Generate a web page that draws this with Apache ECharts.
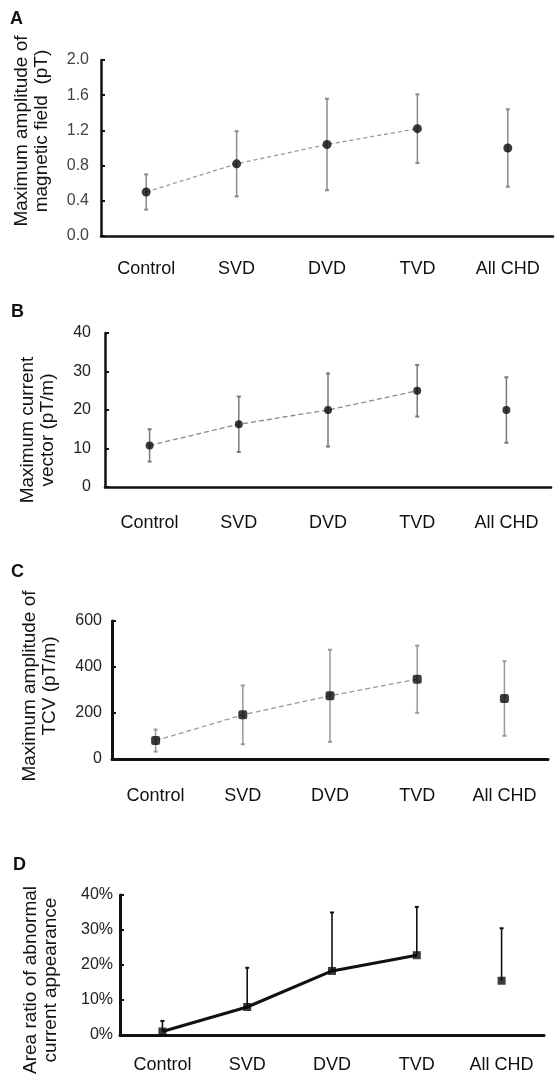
<!DOCTYPE html>
<html><head><meta charset="utf-8">
<script src="https://cdn.jsdelivr.net/npm/echarts@6/dist/echarts.min.js"></script>
<style>html,body{margin:0;padding:0;background:#fff}#c{width:555px;height:1077px}</style>
</head><body><div id="c"></div>
<script>
// ---- data ----
const categories = ['Control', 'SVD', 'DVD', 'TVD', 'All CHD'];
const magMean = [0.50, 0.82, 1.04, 1.22, 1.00];
const magErr  = [0.20, 0.37, 0.52, 0.39, 0.44];
const curMean = [10.8, 16.3, 20.0, 25.0, 20.0];
const curErr  = [4.2, 7.2, 9.5, 6.7, 8.5];
const tcvMean = [80, 192, 275, 347, 263];
const tcvErr  = [48, 128, 200, 146, 162];
const areaMean = [1.0, 8.0, 18.3, 22.8, 15.5];
const areaErr  = [3.0, 11.2, 16.7, 13.8, 15.0];
const magTicks  = [0, 0.4, 0.8, 1.2, 1.6, 2.0];
const curTicks  = [0, 10, 20, 30, 40];
const tcvTicks  = [0, 200, 400, 600];
const areaTicks = [0, 10, 20, 30, 40];
const panelLetters = ['A', 'B', 'C', 'D'];
const yTitles = [
  'Maximum amplitude of\nmagnetic field  (pT)',
  'Maximum current\nvector (pT/m)',
  'Maximum amplitude of\nTCV (pT/m)',
  'Area ratio of abnormal\ncurrent appearance'
];

// ---- layout / style ----
const FONT = '"Liberation Sans", Arial, sans-serif';
const layout = [
  {left: 101, top: 60,  width: 452, height: 176, labelMargin: 12, xMargin: 24, axisW: 2.5,
   letter: [10, 19], title: [32, 131], tickColor: '#444'},
  {left: 105, top: 333, width: 446, height: 154, labelMargin: 14, xMargin: 27, axisW: 2.5,
   letter: [11, 312], title: [38, 430], tickColor: '#222'},
  {left: 112, top: 621, width: 436, height: 138, labelMargin: 10, xMargin: 28, axisW: 3,
   letter: [11, 572], title: [40, 686], tickColor: '#222'},
  {left: 120, top: 895, width: 424, height: 140, labelMargin: 7, xMargin: 21, axisW: 3,
   letter: [13, 865], title: [41, 980], tickColor: '#222'}
];
const styles = [
  {bar: '#8a8a8a', barW: 1.5, line: '#9a9a9a', lineW: 1.3, dash: [4, 3], sym: 'circle', symSize: 9, lowerBar: true, fmt: v => v.toFixed(1)},
  {bar: '#7a7a7a', barW: 1.5, line: '#8a8a8a', lineW: 1.3, dash: [5, 3], sym: 'circle', symSize: 8, lowerBar: true, fmt: v => String(v)},
  {bar: '#999999', barW: 1.5, line: '#9a9a9a', lineW: 1.3, dash: [5, 3], sym: 'roundRect', symSize: 9, lowerBar: true, fmt: v => String(v)},
  {bar: '#111111', barW: 1.6, line: '#111111', lineW: 3, dash: 'solid', sym: 'rect', symSize: 8, lowerBar: false, fmt: v => v + '%'}
];
const means = [magMean, curMean, tcvMean, areaMean];
const errs = [magErr, curErr, tcvErr, areaErr];
const ticks = [magTicks, curTicks, tcvTicks, areaTicks];

function errRender(st) {
  return function (params, api) {
    const i = api.value(0), lo = api.value(1), hi = api.value(2);
    const pLo = api.coord([i, lo]), pHi = api.coord([i, hi]);
    const s = {stroke: st.bar, lineWidth: st.barW};
    const cw = 2;
    const ch = [
      {type: 'line', shape: {x1: pLo[0], y1: pLo[1], x2: pHi[0], y2: pHi[1]}, style: s},
      {type: 'line', shape: {x1: pHi[0] - cw, y1: pHi[1], x2: pHi[0] + cw, y2: pHi[1]}, style: {stroke: st.bar, lineWidth: 2}}
    ];
    if (st.lowerBar) ch.push({type: 'line', shape: {x1: pLo[0] - cw, y1: pLo[1], x2: pLo[0] + cw, y2: pLo[1]}, style: {stroke: st.bar, lineWidth: 2}});
    return {type: 'group', children: ch};
  };
}

const grid = [], xAxis = [], yAxis = [], series = [], graphic = [];
for (let p = 0; p < 4; p++) {
  const L = layout[p], st = styles[p], t = ticks[p];
  grid.push({left: L.left, top: L.top, width: L.width, height: L.height, containLabel: false});
  xAxis.push({
    type: 'category', gridIndex: p, data: categories, boundaryGap: true,
    axisLine: {lineStyle: {color: '#111', width: L.axisW}},
    axisTick: {show: false},
    axisLabel: {margin: L.xMargin, fontSize: 18, color: '#111', fontFamily: FONT, interval: 0},
    splitLine: {show: false}
  });
  yAxis.push({
    type: 'value', gridIndex: p, min: t[0], max: t[t.length - 1], interval: t[1] - t[0],
    axisLine: {show: true, lineStyle: {color: '#111', width: L.axisW}},
    axisTick: {show: true, inside: true, length: 4, lineStyle: {color: '#111', width: 2}},
    axisLabel: {margin: L.labelMargin, fontSize: 16, color: L.tickColor, fontFamily: FONT, formatter: st.fmt},
    splitLine: {show: false}
  });
  const m = means[p], e = errs[p];
  series.push({
    type: 'custom', xAxisIndex: p, yAxisIndex: p, z: 1,
    renderItem: errRender(st),
    encode: {x: 0, y: [1, 2]},
    data: m.map((v, i) => [i, st.lowerBar ? v - e[i] : v, v + e[i]])
  });
  series.push({
    type: 'line', xAxisIndex: p, yAxisIndex: p, z: 2, showSymbol: false, silent: true,
    lineStyle: {color: st.line, width: st.lineW, type: st.dash},
    data: m.slice(0, 4)
  });
  series.push({
    type: 'scatter', xAxisIndex: p, yAxisIndex: p, z: 3, symbol: st.sym, symbolSize: st.symSize,
    itemStyle: {color: '#0a0a0a'}, data: m
  });
  graphic.push({
    type: 'text', x: L.letter[0], y: L.letter[1],
    style: {text: panelLetters[p], font: 'bold 18px ' + FONT, fill: '#111', textVerticalAlign: 'middle'}
  });
  graphic.push({
    type: 'text', x: L.title[0], y: L.title[1], rotation: Math.PI / 2,
    style: {text: yTitles[p], font: '19px ' + FONT, fill: '#111', textAlign: 'center', textVerticalAlign: 'middle', lineHeight: 20}
  });
}

const chart = echarts.init(document.getElementById('c'), null, {renderer: 'canvas'});
chart.setOption({animation: false, backgroundColor: '#fff', grid, xAxis, yAxis, series, graphic});
</script>
</body></html>
